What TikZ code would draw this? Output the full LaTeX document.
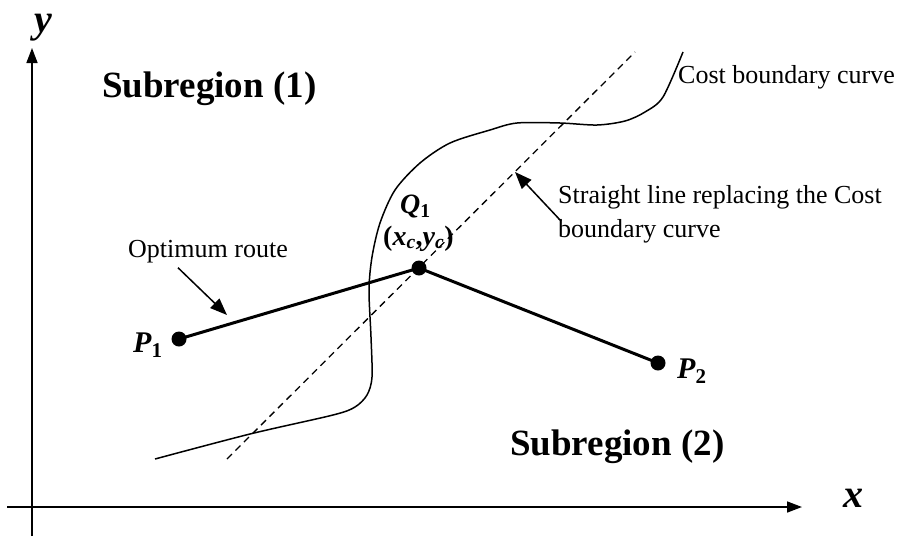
\documentclass[tikz,border=0pt]{standalone}
\usepackage{fontspec}
\setmainfont{Liberation Serif}
\usetikzlibrary{arrows.meta}

\begin{document}
\begin{tikzpicture}[x=1pt, y=-1pt,
        every node/.style={inner sep=0pt},
        dot/.style={circle, fill, minimum size=15pt},
        axis/.style={line width=1.6pt, -{Triangle[length=15pt, width=11pt]}},
        route/.style={line width=3pt},
        pointer/.style={line width=1.5pt, -{Triangle[length=17pt, width=13pt]}},
        note/.style={font=\fontsize{26}{34}\selectfont, align=left},
        region/.style={font=\fontsize{37}{44}\selectfont\bfseries},
        axislabel/.style={font=\fontsize{40}{46}\selectfont\bfseries\itshape},
        ptlabel/.style={font=\fontsize{30}{36}\selectfont\bfseries\itshape},
        qlabel/.style={font=\fontsize{28}{34}\selectfont\bfseries}
    ]
        \useasboundingbox (0,0) rectangle (901,536);

        % axes
        \coordinate (ybot) at (32,536);
        \coordinate (ytop) at (32,48);
        \coordinate (xleft) at (7,507);
        \coordinate (xright) at (802,507);
        \draw[axis] (ybot) -- (ytop);
        \draw[axis] (xleft) -- (xright);
        \node[axislabel, anchor=base] (ylab) at (43,32) {y};
        \node[axislabel, anchor=base] (xlab) at (853,507) {x};

        % regions
        \node[region, anchor=base west] (sub1) at (102,97) {Subregion (1)};
        \node[region, anchor=base west] (sub2) at (510,455) {Subregion (2)};

        % cost boundary and its straight replacement
        \coordinate (dashLow) at (227,459);
        \coordinate (dashHigh) at (635,52);
        \draw[line width=1.3pt, dash pattern=on 7pt off 5pt] (dashLow) -- (dashHigh);
        \draw[line width=1.5pt] plot[smooth, tension=0.5] coordinates {
            (155,459) (250,434) (333,415) (355,407) (367,395) (372,377)
            (371,337) (369,290) (372,257) (380,223) (395,190) (420,163)
            (450,143) (490,130) (517,123) (560,123) (597,125) (625,121)
            (645,112) (663,97) (683,52)};
        \node[note, anchor=base west] (costlab) at (678,83) {Cost boundary curve};

        % route
        \node[dot] (P1) at (179,339) {};
        \node[dot] (Q1) at (419,268) {};
        \node[dot] (P2) at (658,363) {};
        \draw[route] (P1.center) -- (Q1.center) -- (P2.center);
        \node[ptlabel, anchor=base west] (P1lab) at (133,352) {P\textsubscript{\upshape 1}};
        \node[ptlabel, anchor=base west] (P2lab) at (677,378) {P\textsubscript{\upshape 2}};
        \node[qlabel, anchor=base west] (Q1lab) at (400,213) {\textit{Q}\textsubscript{1}};
        \node[qlabel, anchor=base west] (xylab) at (383,245) {(\textit{x}\textsubscript{\textit{c}},\textit{y}\textsubscript{\textit{c}})};

        % notes with pointers
        \node[note, anchor=base west] (opt) at (128,257) {Optimum route};
        \coordinate (optTip) at (227,315);
        \draw[pointer] ([xshift=-30pt, yshift=-5pt]opt.south) -- (optTip);
        \node[note, anchor=north west] (straight) at (558,185) {Straight line replacing the Cost\\boundary curve};
        \coordinate (strTip) at (515,172);
        \draw[pointer] ([xshift=3pt, yshift=-36pt]straight.north west) -- (strTip);
    \end{tikzpicture}
\end{document}
